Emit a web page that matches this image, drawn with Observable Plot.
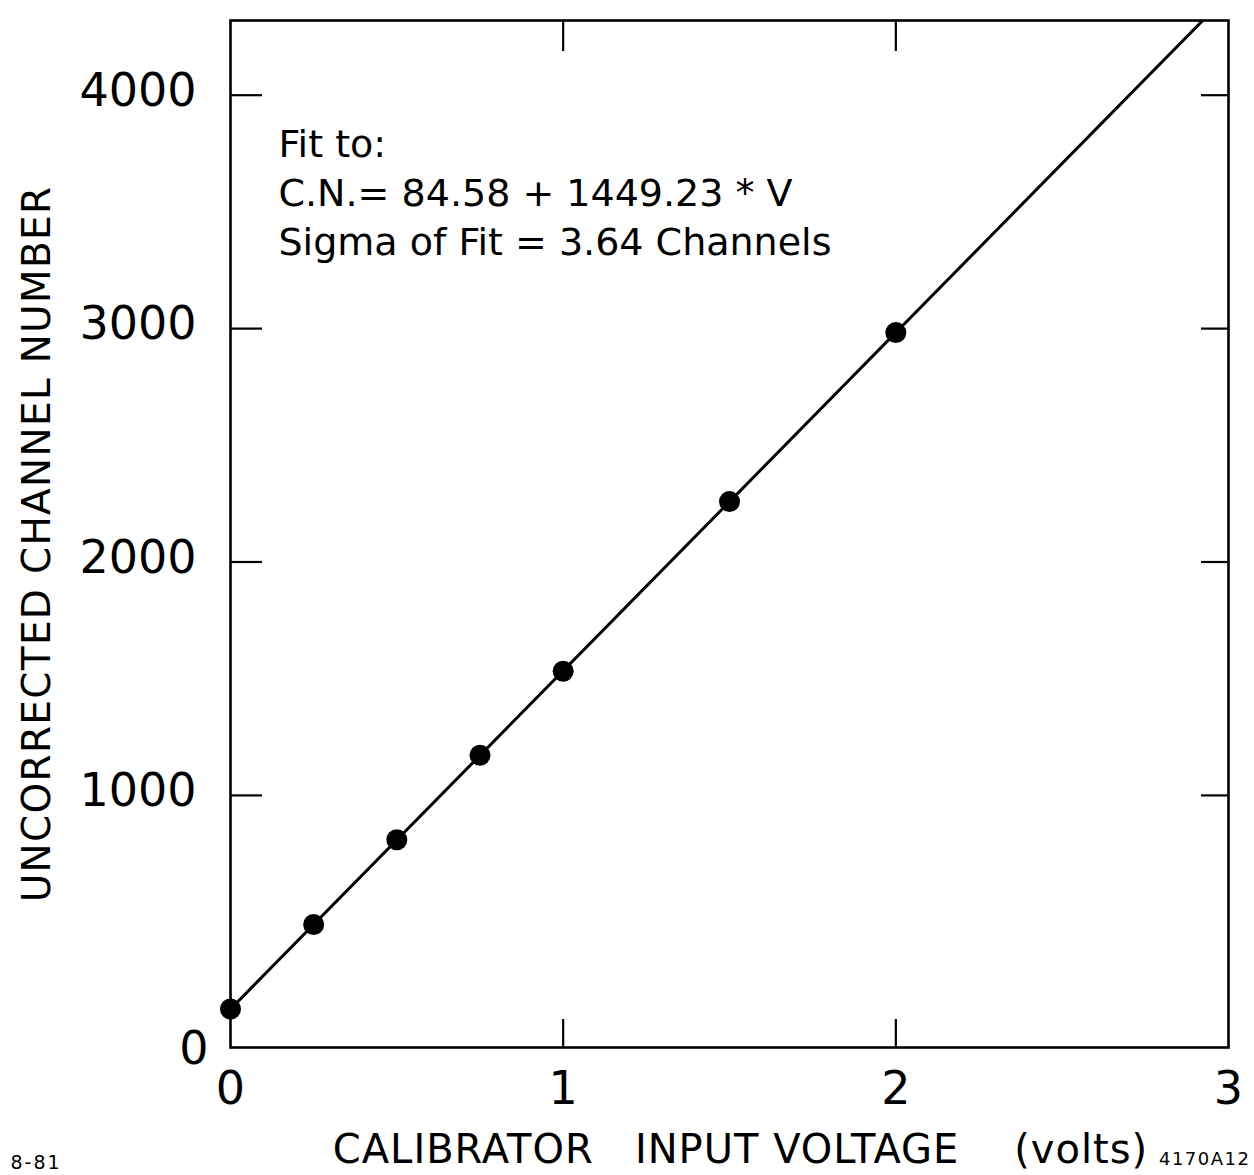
<!DOCTYPE html>
<html>
<head>
<meta charset="utf-8">
<script src="https://cdn.jsdelivr.net/npm/d3@7"></script>
<script src="https://cdn.jsdelivr.net/npm/@observablehq/plot@0.6"></script>
<style>
  html, body { margin: 0; padding: 0; background: #fff; }
  #chart svg { display: block; }
</style>
</head>
<body>
<div id="chart"></div>
<script>
// Data
const voltage = [0, 0.25, 0.5, 0.75, 1.0, 1.5, 2.0];
const channel = [85, 447, 810, 1172, 1532, 2259, 2983];
const fitCoef = [84.58, 1449.23];            // intercept, slope
const fitRange = [0, 3];                      // volts
const xTicks = [0, 1, 2, 3];
const xInnerTicks = [1, 2];
const yTicks = [1000, 2000, 3000, 4000];
const yZeroLabel = [0];
const annotation = ["Fit to:", "C.N.= 84.58 + 1449.23 * V", "Sigma of Fit = 3.64 Channels"];
const xTitle = "CALIBRATOR   INPUT VOLTAGE    (volts)";
const yTitle = "UNCORRECTED CHANNEL NUMBER";
const leftNote = "8-81";
const rightNote = "4170A12";

const points = voltage.map((v, i) => ({v, cn: channel[i]}));
const fitLine = fitRange.map(v => ({v, cn: fitCoef[0] + fitCoef[1] * v}));

const font = "DejaVu Sans, sans-serif";

const chart = Plot.plot({
  width: 1254,
  height: 1175,
  marginLeft: 230,
  marginRight: 26,
  marginTop: 20,
  marginBottom: 128,
  style: {fontFamily: font, background: "#fff", color: "#000"},
  x: {domain: [0, 3]},
  y: {domain: [-80, 4320]},
  marks: [
    // inward ticks
    Plot.axisY(yTicks, {anchor: "left", tickSize: -32, text: null, strokeWidth: 2.2, label: null}),
    Plot.axisY(yTicks, {anchor: "right", tickSize: -28, text: null, strokeWidth: 2.2, label: null}),
    Plot.axisX(xInnerTicks, {anchor: "bottom", tickSize: -28, text: null, strokeWidth: 2.2, label: null}),
    Plot.axisX(xInnerTicks, {anchor: "top", tickSize: -30, text: null, strokeWidth: 2.2, label: null}),
    // tick labels
    Plot.axisY(yTicks, {anchor: "left", tickSize: 0, tickPadding: 34, fontSize: 46, dy: -4, tickFormat: d => String(d), label: null}),
    Plot.axisY(yZeroLabel, {anchor: "left", tickSize: 0, tickPadding: 22, dy: 20, fontSize: 46, tickFormat: d => String(d), label: null}),
    Plot.axisX(xTicks, {anchor: "bottom", tickSize: 0, tickPadding: 24, fontSize: 46, tickFormat: d => String(d), label: null}),
    // fit line
    Plot.line(fitLine, {x: "v", y: "cn", stroke: "#000", strokeWidth: 3, clip: true}),
    // data points
    Plot.dot(points, {x: "v", y: "cn", r: 10.5, fill: "#000", stroke: "none"}),
    // frame
    Plot.frame({stroke: "#000", strokeWidth: 2.6}),
    // annotation
    Plot.text([annotation.join("\n")], {
      frameAnchor: "top-left", textAnchor: "start", lineAnchor: "top",
      dx: 48, dy: 102, fontSize: 38, lineHeight: 1.29, fill: "#000"
    }),
    // axis titles
    Plot.text([yTitle], {
      frameAnchor: "left", textAnchor: "middle", lineAnchor: "middle", rotate: -90,
      dx: -193, dy: 10, fontSize: 39, fill: "#000"
    }),
    Plot.text([xTitle], {
      frameAnchor: "bottom", textAnchor: "middle", lineAnchor: "middle",
      dx: 11, dy: 103, fontSize: 40, fill: "#000"
    }),
    Plot.text([leftNote], {
      frameAnchor: "bottom-left", textAnchor: "start", lineAnchor: "middle",
      dx: -220, dy: 115, fontSize: 19, fill: "#000"
    }),
    Plot.text([rightNote], {
      frameAnchor: "bottom-right", textAnchor: "end", lineAnchor: "middle",
      dx: 22, dy: 112, fontSize: 18, fill: "#000"
    })
  ]
});

// letter spacing for the lettering-style titles
const spacing = new Map([[yTitle, 1.3], [xTitle, 1], [leftNote, 2], [rightNote, 1.5]]);
d3.select(chart).selectAll("text").each(function() {
  const t = this.textContent;
  if (spacing.has(t)) this.setAttribute("letter-spacing", spacing.get(t));
});

document.getElementById("chart").appendChild(chart);
</script>
</body>
</html>
